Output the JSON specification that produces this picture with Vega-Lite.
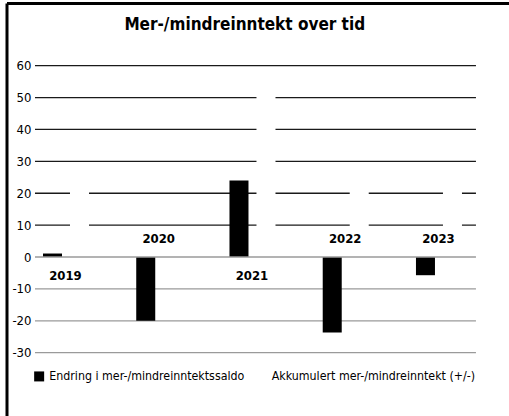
{
  "$schema": "https://vega.github.io/schema/vega-lite/v6.json",
  "autosize": {"type": "none"},
  "padding": {"left": 6.5, "top": 3, "right": 0, "bottom": 0},
  "width": 502.5,
  "height": 413,
  "background": "white",
  "config": {
    "view": {"stroke": null},
    "font": "DejaVu Sans Condensed"
  },
  "title": {
    "text": "Mer-/mindreinntekt over tid",
    "font": "DejaVu Sans Condensed",
    "fontWeight": "bold",
    "fontSize": 17,
    "color": "black",
    "anchor": "middle",
    "dx": -13,
    "offset": -31
  },
  "datasets": {
    "bars": [
      {"year": "2019", "series": "Endring i mer-/mindreinntektssaldo", "value": 1.1},
      {"year": "2020", "series": "Endring i mer-/mindreinntektssaldo", "value": -20},
      {"year": "2021", "series": "Endring i mer-/mindreinntektssaldo", "value": 24},
      {"year": "2022", "series": "Endring i mer-/mindreinntektssaldo", "value": -23.7},
      {"year": "2023", "series": "Endring i mer-/mindreinntektssaldo", "value": -5.7},
      {"year": "2019", "series": "Akkumulert mer-/mindreinntekt (+/-)", "value": 25},
      {"year": "2020", "series": "Akkumulert mer-/mindreinntekt (+/-)", "value": 5},
      {"year": "2021", "series": "Akkumulert mer-/mindreinntekt (+/-)", "value": 55},
      {"year": "2022", "series": "Akkumulert mer-/mindreinntekt (+/-)", "value": 25},
      {"year": "2023", "series": "Akkumulert mer-/mindreinntekt (+/-)", "value": 25}
    ],
    "grid": [
      {"v": -30}, {"v": -20}, {"v": -10}, {"v": 10}, {"v": 20},
      {"v": 30}, {"v": 40}, {"v": 50}, {"v": 60}
    ]
  },
  "layer": [
    {
      "data": {"name": "grid"},
      "mark": {"type": "rule", "strokeWidth": 1.3},
      "encoding": {
        "x": {"datum": "2019", "type": "nominal", "bandPosition": 0},
        "x2": {"datum": "2023", "bandPosition": 1},
        "y": {"field": "v", "type": "quantitative"},
        "color": {
          "condition": {"test": "datum.v > 0", "value": "#1a1a1a"},
          "value": "#9a9a9a"
        }
      }
    },
    {
      "data": {"name": "bars"},
      "mark": {"type": "bar"},
      "encoding": {
        "x": {
          "field": "year",
          "type": "nominal",
          "scale": {"paddingInner": 0.2708, "paddingOuter": 0.33, "align": 0.463},
          "axis": {
            "orient": "top",
            "title": null,
            "labels": false,
            "ticks": false,
            "grid": false,
            "domain": true,
            "domainColor": "black",
            "domainWidth": 3
          }
        },
        "xOffset": {
          "field": "series",
          "type": "nominal",
          "sort": ["Endring i mer-/mindreinntektssaldo", "Akkumulert mer-/mindreinntekt (+/-)"],
          "scale": {"paddingInner": 0.296, "paddingOuter": 0.407, "align": 0.364}
        },
        "y": {
          "field": "value",
          "type": "quantitative",
          "scale": {"domain": [-49.85, 79.66], "nice": false, "zero": false},
          "axis": {
            "orient": "left",
            "title": null,
            "values": [-30, -20, -10, 0, 10, 20, 30, 40, 50, 60],
            "labelExpr": "'' + datum.value",
            "grid": false,
            "ticks": false,
            "tickSize": 0,
            "labelPadding": -24.5,
            "labelFont": "DejaVu Sans Condensed",
            "labelFontSize": 13,
            "labelColor": "black",
            "domain": true,
            "domainColor": "black",
            "domainWidth": 3
          }
        },
        "y2": {"datum": 0},
        "color": {
          "field": "series",
          "type": "nominal",
          "sort": ["Endring i mer-/mindreinntektssaldo", "Akkumulert mer-/mindreinntekt (+/-)"],
          "scale": {
            "domain": ["Endring i mer-/mindreinntektssaldo", "Akkumulert mer-/mindreinntekt (+/-)"],
            "range": ["black", "white"]
          },
          "legend": {
            "orient": "none",
            "legendX": 26.5,
            "legendY": 367,
            "direction": "horizontal",
            "title": null,
            "padding": 0,
            "symbolType": "square",
            "symbolSize": 100,
            "symbolStrokeWidth": 0,
            "symbolOpacity": 1,
            "labelOffset": 4,
            "columnPadding": 10.5,
            "labelFont": "DejaVu Sans Condensed",
            "labelFontSize": 12.3,
            "labelColor": "black",
            "labelLimit": 400
          }
        }
      }
    },
    {
      "data": {"values": [{"v": 0}]},
      "mark": {"type": "rule", "strokeWidth": 1.6, "color": "#9a9a9a"},
      "encoding": {
        "x": {"datum": "2019", "type": "nominal", "bandPosition": 0},
        "x2": {"datum": "2023", "bandPosition": 1},
        "y": {"field": "v", "type": "quantitative"}
      }
    },
    {
      "data": {"name": "bars"},
      "transform": [
        {"filter": "datum.series === 'Endring i mer-/mindreinntektssaldo' && datum.value >= 0"}
      ],
      "mark": {"type": "text", "font": "DejaVu Sans Condensed", "fontWeight": "bold", "fontSize": 13, "color": "black", "baseline": "middle", "dy": 19, "dx": -3.5},
      "encoding": {
        "x": {"field": "year", "type": "nominal"},
        "y": {"datum": 0, "type": "quantitative"},
        "text": {"field": "year"}
      }
    },
    {
      "data": {"name": "bars"},
      "transform": [
        {"filter": "datum.series === 'Endring i mer-/mindreinntektssaldo' && datum.value < 0"}
      ],
      "mark": {"type": "text", "font": "DejaVu Sans Condensed", "fontWeight": "bold", "fontSize": 13, "color": "black", "baseline": "middle", "dy": -18, "dx": -3.5},
      "encoding": {
        "x": {"field": "year", "type": "nominal"},
        "y": {"datum": 0, "type": "quantitative"},
        "text": {"field": "year"}
      }
    }
  ]
}
